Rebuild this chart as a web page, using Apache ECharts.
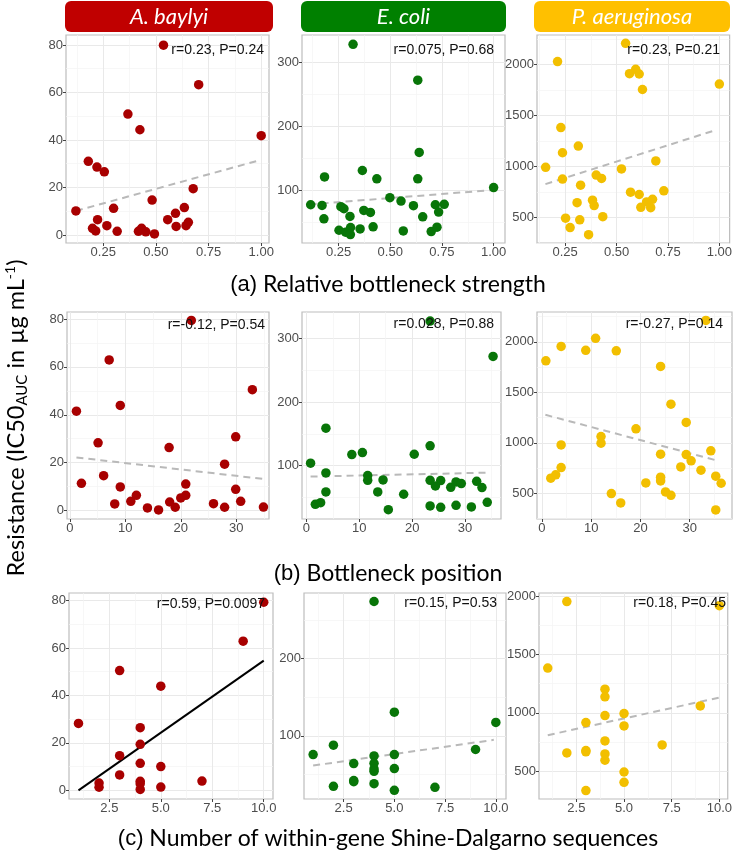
<!DOCTYPE html>
<html>
<head>
<meta charset="utf-8">
<script src="https://cdn.jsdelivr.net/npm/echarts@6.0.0/dist/echarts.min.js"></script>
<style>
    html, body { margin: 0; padding: 0; background: #fff; }
    #chart { width: 735px; height: 859px; }
</style>
</head>
<body>
<div id="chart"></div>
<script>
    // ---- data: [x, y] per gene ----
    // row (a): relative bottleneck strength
    var abStrength = [[0.12,10.1],[0.179,31.0],[0.22,28.6],[0.255,26.6],[0.199,2.8],[0.214,1.7],[0.223,6.4],[0.267,3.9],[0.299,11.2],[0.316,1.5],[0.367,50.9],[0.424,44.3],[0.417,1.5],[0.432,2.8],[0.452,1.3],[0.482,14.7],[0.493,0.4],[0.536,79.9],[0.556,6.4],[0.593,9.1],[0.596,3.6],[0.635,11.5],[0.643,3.9],[0.654,5.3],[0.677,19.5],[0.703,63.3],[1.0,41.8]];
    var ecStrength = [[0.115,76.8],[0.17,75.8],[0.182,120.5],[0.179,54.7],[0.252,36.8],[0.261,73.7],[0.276,70.5],[0.284,33.7],[0.305,58.4],[0.308,41.1],[0.307,30.0],[0.32,328.4],[0.354,38.9],[0.365,130.5],[0.372,67.9],[0.404,64.7],[0.417,42.1],[0.435,117.4],[0.498,87.9],[0.552,82.6],[0.563,35.8],[0.612,75.3],[0.633,272.1],[0.64,158.9],[0.633,117.4],[0.657,57.9],[0.698,34.7],[0.718,76.8],[0.726,41.6],[0.734,65.3],[0.761,77.4],[1.0,103.7]];
    var paStrength = [[0.155,992],[0.213,2030],[0.229,1382],[0.237,1135],[0.237,877],[0.252,493],[0.274,401],[0.308,645],[0.314,1201],[0.325,817],[0.321,477],[0.364,331],[0.383,669],[0.391,616],[0.401,916],[0.427,883],[0.433,507],[0.524,976],[0.544,2209],[0.563,1911],[0.568,748],[0.593,1954],[0.61,1908],[0.61,725],[0.618,599],[0.626,1756],[0.646,652],[0.666,596],[0.675,678],[0.691,1055],[0.73,761],[1.0,1809]];
    // row (b): bottleneck position
    var abPosition = [[1.2,41.5],[2.1,11.4],[5.1,28.3],[6.1,14.6],[7.1,62.9],[8.1,2.8],[9.1,43.9],[9.1,9.9],[11,3.9],[12,6.4],[14,1.1],[16,0.3],[17.9,26.3],[18,3.6],[19,1.4],[20,5.3],[20.9,11.1],[20.9,6.4],[21.9,79.4],[25.9,2.9],[27.9,19.4],[27.9,1.4],[29.9,30.8],[29.9,8.9],[30.8,3.9],[32.9,50.5],[34.9,1.5]];
    var ecPosition = [[0.8,103.7],[1.7,39.1],[2.7,41.7],[3.7,158.8],[3.7,88.5],[3.7,58.5],[8.6,117.3],[10.6,120.5],[11.6,84.3],[11.6,76.9],[13.5,58.5],[14.5,77.4],[15.5,30.7],[18.4,54.9],[20.4,117.8],[23.4,327.3],[23.4,131.0],[23.4,76.9],[23.4,36.5],[24.4,68.0],[25.4,76.4],[25.4,34.4],[27.3,65.9],[28.3,74.3],[28.3,37.5],[29.3,71.7],[31.2,34.9],[32.2,75.3],[33.2,65.4],[34.2,42.3],[35.3,271.7]];
    var paPosition = [[0.8,1812],[1.8,649],[2.8,682],[3.9,1954],[3.9,979],[3.9,754],[8.9,1915],[10.9,2034],[12,1062],[12,996],[14.1,497],[16,404],[15.1,1911],[19.1,1138],[21.1,602],[24.1,1756],[24.1,887],[24.1,659],[24.1,622],[25.1,513],[26.2,480],[26.2,1382],[28.2,761],[29.3,1201],[29.3,883],[30.3,821],[32.3,728],[33.3,2212],[34.3,920],[35.3,669],[35.3,335],[36.4,599]];
    // row (c): number of within-gene Shine-Dalgarno sequences
    var abSD = [[1,28.2],[2,3.1],[2,1.3],[3,50.5],[3,14.6],[3,6.5],[4,26.4],[4,19.4],[4,11.4],[4,3.8],[4,2.8],[4,0.4],[5,43.9],[5,10.0],[5,1.4],[7,3.9],[9,62.9],[10,79.3]];
    var ecSD = [[1,75.8],[2,87.9],[2,34.6],[3,64.1],[3,40.7],[3,42.0],[4,74.0],[4,64.5],[4,57.1],[4,54.1],[4,38.1],[4,274],[5,130.7],[5,75.8],[5,57.6],[5,29.4],[7,33.3],[9,82.3],[10,117.3]];
    var paSD = [[1,1384],[2,1955],[2,655],[3,916],[3,675],[3,664],[3,331],[4,1203],[4,1137],[4,976],[4,758],[4,646],[4,592],[5,993],[5,887],[5,491],[5,402],[7,724],[9,1059],[10,1920]];

    // fitted lines (end points)
    var abStrengthFit = [[0.12,10.1],[0.99,31.4]];
    var ecStrengthFit = [[0.11,77.4],[1.0,100]];
    var paStrengthFit = [[0.154,827],[0.98,1356]];
    var abPositionFit = [[1.2,22.2],[34.9,13.2]];
    var ecPositionFit = [[0.8,82.7],[34.8,89.0]];
    var paPositionFit = [[0.7,1277],[35.8,821]];
    var abSDFit = [[1,0],[10,54.7]];
    var ecSDFit = [[1,61.5],[9.9,94.8]];
    var paSDFit = [[1,807],[10,1131]];

    // tick labels
    var xTicksStrength = [0.25, 0.5, 0.75, 1.0];
    var xTicksPosition = [0, 10, 20, 30];
    var xTicksSD = [2.5, 5, 7.5, 10];
    var yTicksAb = [0, 20, 40, 60, 80];
    var yTicksEc = [100, 200, 300];
    var yTicksPa = [500, 1000, 1500, 2000];

    var species = ['A. baylyi', 'E. coli', 'P. aeruginosa'];
    var stats = ['r=0.23, P=0.24', 'r=0.075, P=0.68', 'r=0.23, P=0.21',
                 'r=-0.12, P=0.54', 'r=0.028, P=0.88', 'r=-0.27, P=0.14',
                 'r=0.59, P=0.0097', 'r=0.15, P=0.53', 'r=0.18, P=0.45'];
    var rowTitles = ['Relative bottleneck strength', 'Bottleneck position', 'Number of within-gene Shine-Dalgarno sequences'];

    var RED = '#a80000', GREEN = '#087508', YELLOW = '#f2bf00';
    var headColors = ['#c00000', '#008000', '#ffc000'];

    // layout: [left, top, right, bottom] in px
    var panels = [
        {data: abStrength, fit: abStrengthFit, color: RED,    rect: [66,35,269,243],  x: [0.073,1.037], y: [-3.4,84.2], xt: xTicksStrength, yt: yTicksAb, dx: 2, note: [264,50]},
        {data: ecStrength, fit: ecStrengthFit, color: GREEN,  rect: [302,35,505,243], x: [0.073,1.055], y: [16.8,343],  xt: xTicksStrength, yt: yTicksEc, dx: 2, note: [494,50]},
        {data: paStrength, fit: paStrengthFit, color: YELLOW, rect: [537,35,732,243], x: [0.113,1.05],  y: [249,2291],  xt: xTicksStrength, yt: yTicksPa, dx: 2, note: [720,50]},
        {data: abPosition, fit: abPositionFit, color: RED,    rect: [67,312,269,519], x: [-0.5,35.9],   y: [-3.5,82.9], xt: xTicksPosition, yt: yTicksAb, dx: 0, note: [265,325]},
        {data: ecPosition, fit: ecPositionFit, color: GREEN,  rect: [302,312,501,519],x: [-0.82,36.8],  y: [16,341.5],  xt: xTicksPosition, yt: yTicksEc, dx: 0, note: [494,324]},
        {data: paPosition, fit: paPositionFit, color: YELLOW, rect: [537,312,732,519],x: [-1.0,38.6],   y: [245,2295],  xt: xTicksPosition, yt: yTicksPa, dx: 0, note: [723,324]},
        {data: abSD, fit: abSDFit, color: RED,    rect: [69,593,273,799],  x: [0.54,10.45], y: [-3.65,83.2], xt: xTicksSD, yt: yTicksAb, dx: 1, note: [265,604], solid: true},
        {data: ecSD, fit: ecSDFit, color: GREEN,  rect: [304,593,506,799], x: [0.55,10.5],  y: [18.2,285],   xt: xTicksSD, yt: yTicksEc, dx: 1, note: [497,603]},
        {data: paSD, fit: paSDFit, color: YELLOW, rect: [539,593,732,799], x: [0.54,10.44], y: [259,2029],   xt: xTicksSD, yt: yTicksPa, dx: 1, note: [726,603]}
    ];

    function minors(ticks, range){
        var step = ticks[1] - ticks[0], out = [];
        for (var v = ticks[0] - step / 2; v <= range[1]; v += step) {
            if (v >= range[0]) out.push(v);
        }
        return out;
    }

    function mainAxis(i, range, ticks, dec){
        return {
            gridIndex: i, type: 'value', min: range[0], max: range[1],
            axisLine: {show: false, onZero: false},
            axisTick: {show: true, length: 3, customValues: ticks, lineStyle: {color: '#444', width: 1}},
            axisLabel: {customValues: ticks, margin: 3, color: '#4d4d4d', fontSize: 13, fontFamily: 'Liberation Sans',
                formatter: function(v){ return v.toFixed(dec); }},
            splitLine: {show: true, lineStyle: {color: '#e9e9e9', width: 1}}
        };
    }
    function minorAxis(i, range, ticks){
        return {
            gridIndex: i, type: 'value', min: range[0], max: range[1],
            axisLine: {show: false, onZero: false},
            axisTick: {show: false, customValues: minors(ticks, range)},
            axisLabel: {show: false},
            splitLine: {show: true, lineStyle: {color: '#f3f3f3', width: 0.7}}
        };
    }

    var grids = [], xAxes = [], yAxes = [], series = [], graphics = [];
    panels.forEach(function(p, i){
        grids.push({left: p.rect[0], top: p.rect[1], width: p.rect[2] - p.rect[0], height: p.rect[3] - p.rect[1],
            show: true, borderColor: '#bdbdbd', borderWidth: 1.2, backgroundColor: '#fff'});
        xAxes.push(mainAxis(i, p.x, p.xt, p.dx));
        xAxes.push(minorAxis(i, p.x, p.xt));
        yAxes.push(mainAxis(i, p.y, p.yt, 0));
        yAxes.push(minorAxis(i, p.y, p.yt));
        series.push({type: 'line', xAxisIndex: 2 * i, yAxisIndex: 2 * i, data: p.fit, symbol: 'none', silent: true, z: 2,
            lineStyle: p.solid ? {color: '#000', width: 2} : {color: '#b9b9b9', width: 2, type: [7, 5]}});
        series.push({type: 'scatter', xAxisIndex: 2 * i, yAxisIndex: 2 * i, data: p.data, symbolSize: 9.5, z: 3,
            itemStyle: {color: p.color, opacity: 1}});
        graphics.push({type: 'text', x: p.note[0], y: p.note[1], z: 10,
            style: {text: stats[i], fill: '#111', fontSize: 14, fontFamily: 'Liberation Sans', align: 'right', verticalAlign: 'middle'}});
    });

    // species headers
    var heads = [[65,273], [301,506], [534,730]];
    heads.forEach(function(h, k){
        graphics.push({type: 'rect', shape: {x: h[0], y: 1, width: h[1] - h[0], height: 31, r: 6}, style: {fill: headColors[k]}});
        graphics.push({type: 'text', x: (h[0] + h[1]) / 2, y: 17,
            style: {text: species[k], fill: '#fff', fontSize: 22, fontStyle: 'italic', fontFamily: 'Lato', align: 'center', verticalAlign: 'middle'}});
    });

    // row captions
    var capY = [285, 574, 839];
    ['a', 'b', 'c'].forEach(function(c, k){
        graphics.push({type: 'text', x: 388, y: capY[k],
            style: {text: '{p|(' + c + ')} ' + rowTitles[k], fill: '#000', fontSize: 23, fontFamily: 'Lato',
                align: 'center', verticalAlign: 'middle',
                rich: {p: {fontSize: 22, fontFamily: 'Liberation Sans', fill: '#000'}}}});
    });

    // shared y title
    graphics.push({type: 'text', x: 16, y: 418, rotation: Math.PI / 2,
        style: {text: 'Resistance (IC50{sub|AUC} in µg mL{sup|-1})', fill: '#000', fontSize: 23.5, fontFamily: 'Lato',
            align: 'center', verticalAlign: 'middle',
            rich: {
                sub: {fontSize: 15, fontFamily: 'Lato', fill: '#000', padding: [12, 0, 0, 0]},
                sup: {fontSize: 14, fontFamily: 'Lato', fill: '#000', padding: [0, 0, 12, 0]}
            }}});

    var chart = echarts.init(document.getElementById('chart'));
    chart.setOption({
        animation: false,
        backgroundColor: '#fff',
        grid: grids,
        xAxis: xAxes,
        yAxis: yAxes,
        series: series,
        graphic: graphics
    });
</script>
</body>
</html>
